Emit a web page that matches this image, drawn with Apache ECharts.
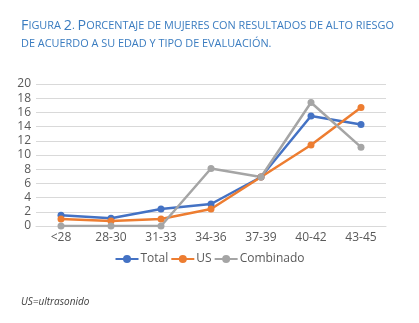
<!DOCTYPE html>
<html><head><meta charset="utf-8">
<script src="https://cdn.jsdelivr.net/npm/echarts@6/dist/echarts.min.js"></script>
<style>html,body{margin:0;padding:0;background:#fff}#c{width:419px;height:323px}</style>
</head><body><div id="c"></div>
<script>
const categories = ['<28','28-30','31-33','34-36','37-39','40-42','43-45'];
const totalValues = [1.5, 1.1, 2.4, 3.1, 6.9, 15.5, 14.3];
const usValues = [1.0, 0.7, 1.0, 2.4, 6.9, 11.4, 16.7];
const combinadoValues = [0, 0, 0, 8.1, 6.9, 17.4, 11.1];
const titleLines = ['Figura 2. Porcentaje de mujeres con resultados de alto riesgo', 'de acuerdo a su edad y tipo de evaluación.'];
const footnote = 'US=ultrasonido';

function smallCaps(str){
  let out=''; let cur=null; let buf='';
  const flush=()=>{ if(buf){ out += '{'+cur+'|'+buf+'}'; buf=''; } };
  for (const ch of str){
    const isUpper = ch !== ch.toLowerCase() || /[0-9]/.test(ch);
    const st = isUpper ? 'b' : 's';
    if (st!==cur){ flush(); cur=st; }
    buf += ch.toUpperCase();
  }
  flush();
  return out;
}
const titleText = titleLines.map(smallCaps).join('\n');
const chart = echarts.init(document.getElementById('c'), null, {renderer:'canvas'});
const ff = 'Open Sans';
chart.setOption({
  animation:false,
  title:[{
    text: titleText, left: 16, top: 12,
    textStyle:{ fontWeight:'normal', rich:{
      b:{fontSize:14.3, color:'#3a7cc0', fontFamily:ff, fontWeight:'normal', lineHeight:18},
      s:{fontSize:10.9, color:'#3a7cc0', fontFamily:ff, fontWeight:'normal', lineHeight:18}
    }}
  },{
    text: footnote, left: 16, top: 292,
    textStyle:{fontSize:10, fontStyle:'italic', fontWeight:'normal', color:'#404040', fontFamily:ff}
  }],
  legend:{
    top: 248, left:'center', itemWidth:23, itemHeight:10, itemGap:2,
    textStyle:{fontSize:12, color:'#595959', fontFamily:ff, padding:[0,0,0,-3]},
    data:['Total','US','Combinado']
  },
  grid:{left:36, right:33, top:84, bottom:97},
  xAxis:{
    type:'category', data:categories, boundaryGap:true,
    axisLine:{lineStyle:{color:'#d9d9d9'}}, axisTick:{show:false},
    axisLabel:{color:'#595959', fontSize:12, fontFamily:ff, margin:6}
  },
  yAxis:{
    type:'value', min:0, max:20, interval:2,
    axisLine:{show:false}, axisTick:{show:false},
    splitLine:{lineStyle:{color:'#d9d9d9'}},
    axisLabel:{color:'#595959', fontSize:12, fontFamily:ff, margin:5}
  },
  series:[
    {name:'Total', type:'line', data:totalValues, color:'#4472c4', symbol:'circle', symbolSize:7, lineStyle:{width:2.5}},
    {name:'US', type:'line', data:usValues, color:'#ed7d31', symbol:'circle', symbolSize:7, lineStyle:{width:2.5}},
    {name:'Combinado', type:'line', data:combinadoValues, color:'#a5a5a5', symbol:'circle', symbolSize:7, lineStyle:{width:2.5}}
  ]
});
</script></body></html>
